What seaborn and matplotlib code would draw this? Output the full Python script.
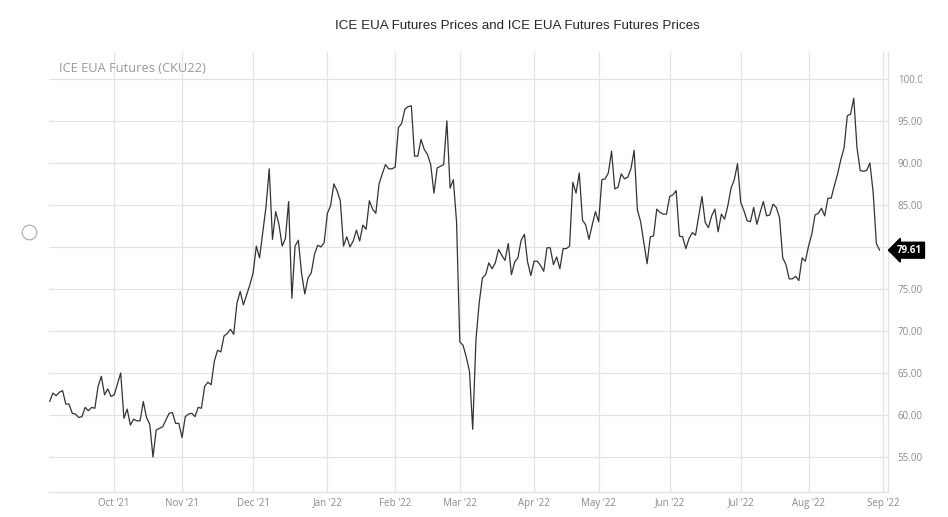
import pandas as pd
import matplotlib
matplotlib.use("Agg")
import matplotlib.pyplot as plt
import seaborn as sns
from matplotlib.transforms import Bbox


# Daily settlement prices (EUR/t), one per trading day
sep_21 = [61.6, 62.6, 62.3, 62.7, 62.9, 61.3, 61.3, 60.2, 60.1, 59.7,
          59.8, 60.9, 60.5, 60.9, 60.8, 63.4, 64.6, 62.4, 63.1, 62.2]
oct_21 = [62.4, 63.7, 65.0, 59.6, 60.7, 58.8, 59.5, 59.3, 59.3, 61.6, 59.7,
          58.9, 55.0, 58.2, 58.4, 58.6, 59.4, 60.2, 60.3, 59.0, 59.0]
nov_21 = [57.3, 59.8, 60.1, 60.2, 59.8, 60.9, 60.8, 63.4, 63.9, 63.6, 66.4,
          67.7, 67.5, 69.4, 69.7, 70.2, 69.6, 73.3, 74.7, 73.1, 74.3, 75.5]
dec_21 = [76.9, 80.1, 78.7, 81.7, 84.8, 89.3, 80.9, 84.2, 82.7, 80.1, 81.0, 85.4,
          73.9, 80.1, 80.8, 76.9, 74.4, 76.3, 76.9, 79.1, 80.2, 80.0, 80.5]
jan_22 = [84.0, 84.9, 87.5, 86.7, 85.5, 80.1, 81.2, 80.0, 80.7, 82.0, 80.7,
          82.6, 82.1, 85.5, 84.5, 84.0, 87.5, 88.7, 89.8, 89.3, 89.3]
feb_22 = [89.5, 94.2, 94.7, 96.4, 96.7, 96.8, 90.8, 90.8, 92.8, 91.6,
          91.0, 89.8, 86.4, 89.4, 89.6, 89.8, 95.0, 87.0, 88.0, 83.0]
mar_22 = [68.7, 68.3, 66.9, 65.2, 58.3, 68.9, 73.3, 76.3, 76.7, 78.1, 77.4, 78.1,
          79.7, 79.0, 78.4, 80.4, 76.7, 78.2, 78.7, 80.8, 81.5, 78.2, 76.6]
apr_22 = [78.3, 78.3, 77.8, 77.1, 79.9, 79.9, 77.9, 78.8, 77.4, 79.8,
          79.8, 80.1, 87.7, 86.4, 88.8, 83.2, 82.6, 80.9, 82.6, 84.2]
may_22 = [83.0, 88.0, 88.1, 88.8, 91.4, 86.9, 87.1, 88.7, 88.1, 88.3, 89.3,
          91.5, 84.4, 83.0, 80.5, 78.0, 81.2, 81.3, 84.5, 84.1, 83.9, 83.9]
jun_22 = [86.0, 86.2, 86.7, 81.3, 81.2, 79.8, 81.0, 81.7, 81.4, 83.7, 86.0,
          82.9, 82.3, 83.7, 84.5, 81.8, 83.9, 83.3, 84.9, 87.0, 88.0, 89.9]
jul_22 = [85.3, 84.3, 83.1, 83.0, 84.7, 82.7, 84.1, 85.4, 83.7, 83.8, 85.1,
          84.7, 83.5, 78.7, 77.9, 76.2, 76.2, 76.5, 76.0, 78.7, 78.3]
aug_22 = [80.1, 81.5, 83.8, 84.0, 84.6, 83.7, 85.8, 85.8, 87.3, 88.7, 90.4, 91.8,
          95.6, 95.8, 97.7, 91.8, 89.1, 89.0, 89.1, 90.0, 86.5, 80.4, 79.61]

holidays = ["2022-04-15"]
y_ticks = [55, 60, 65, 70, 75, 80, 85, 90, 95, 100]

prices = (sep_21 + oct_21 + nov_21 + dec_21 + jan_22 + feb_22
          + mar_22 + apr_22 + may_22 + jun_22 + jul_22 + aug_22)
dates = pd.bdate_range("2021-09-03", "2022-08-31").drop(pd.to_datetime(holidays))

df = pd.DataFrame({"date": dates, "price": prices})
df["step"] = range(len(df))  # trading-day axis, no weekend gaps

# month ticks at the first trading day of each month (plus the next month)
is_new_month = df["date"].dt.month != df["date"].dt.month.shift()
month_pos = list(df.loc[is_new_month, "step"])[1:]
month_lab = [d.strftime("%b '%y") for d in df.loc[is_new_month, "date"]][1:]
month_pos.append(len(df))
month_lab.append((df["date"].iloc[-1] + pd.offsets.MonthBegin()).strftime("%b '%y"))

last = df["price"].iloc[-1]

sns.set_style("white")
plt.rcParams["font.family"] = ["Open Sans", "DejaVu Sans"]

fig = plt.figure(figsize=(9.48, 5.17), dpi=100)
ax = fig.add_axes([49 / 948, 1 - 492 / 517, 839 / 948, 440 / 517])

sns.lineplot(data=df, x="step", y="price", ax=ax, color="#333333", linewidth=0.9)

ax.set_xlim(-0.2, 259.6)
ax.set_ylim(50.83, 103.2)
ax.set_xticks(month_pos)
ax.set_xticklabels(month_lab)
ax.set_yticks(y_ticks)
# the 80.00 label sits under the last-price tag, so it is left blank
ax.set_yticklabels(["" if abs(v - last) < 2 else f"{v:.2f}" for v in y_ticks])
ax.yaxis.tick_right()
ax.tick_params(axis="both", length=0, labelsize=7, labelcolor="#8a8a8a")
ax.tick_params(axis="y", pad=7)
ax.tick_params(axis="x", pad=4)
ax.set_xlabel("")
ax.set_ylabel("")

ax.grid(True, color="#e3e3e3", linewidth=0.9)
for side in ["left", "top"]:
    ax.spines[side].set_visible(False)
for side in ["right", "bottom"]:
    ax.spines[side].set_color("#e3e3e3")
    ax.spines[side].set_linewidth(0.9)

# last price tag
ax.annotate(f"{last:.2f}", xy=(1, last), xycoords=("axes fraction", "data"),
            xytext=(6.5, 0), textcoords="offset points", va="center", ha="left",
            fontsize=7, fontweight="bold", color="white",
            bbox=dict(boxstyle="larrow,pad=0.25", fc="black", ec="black"))

fig.text(59 / 948, 1 - 68 / 517, "ICE EUA Futures (CKU22)", fontsize=9.3,
         color="#9a9a9a", va="center", ha="left")
fig.text(517 / 948, 1 - 26 / 517,
         "ICE EUA Futures Prices and ICE EUA Futures Futures Prices",
         fontsize=9.6, family="Liberation Sans", ha="center", va="center")
fig.add_artist(plt.Line2D([29 / 948], [1 - 232 / 517], marker="o", markersize=10.5,
                          markerfacecolor="white", markeredgecolor="#b0b0b0",
                          markeredgewidth=0.9, transform=fig.transFigure))

fig.canvas.draw()
clip = Bbox.from_extents(0, 0, 922, 517)
for lbl in ax.get_yticklabels():
    lbl.set_clip_box(clip)
    lbl.set_clip_on(True)

fig.savefig("out.png", dpi=100)
